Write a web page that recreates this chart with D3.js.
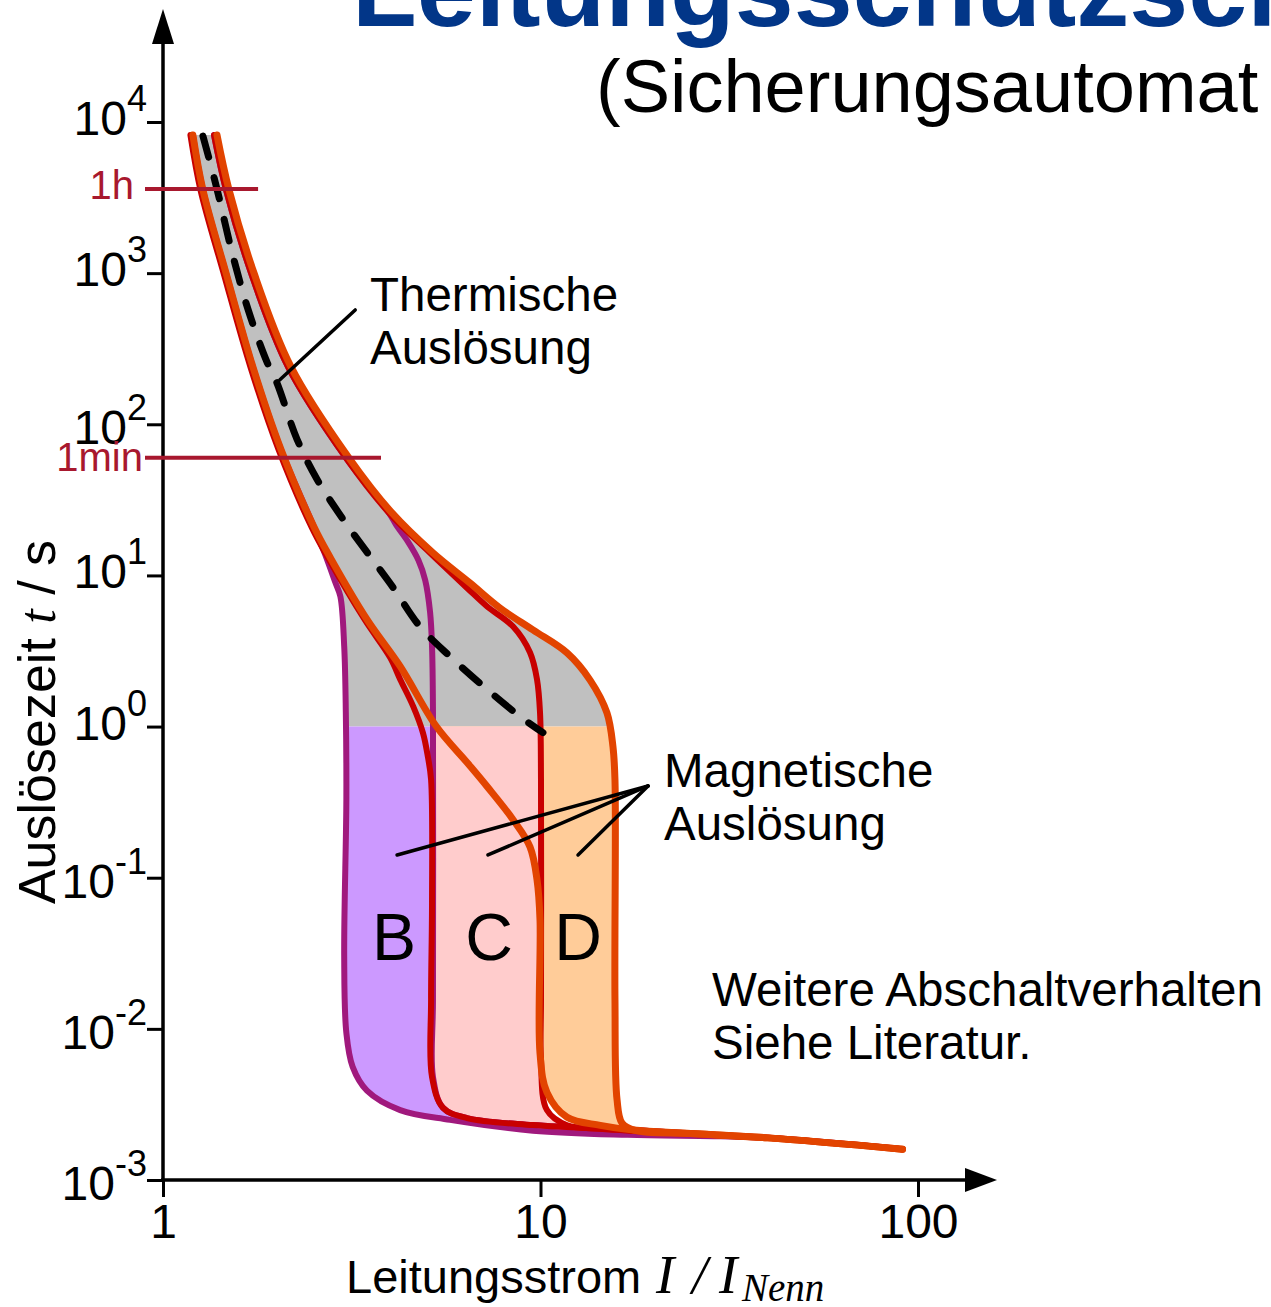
<!DOCTYPE html>
<html>
<head>
<meta charset="utf-8">
<script src="https://cdn.jsdelivr.net/npm/d3@7"></script>
<style>
    body { margin: 0; background: #fff; overflow: hidden; }
    svg { display: block; font-family: "Liberation Sans", Arial, sans-serif; }
</style>
</head>
<body>
<script>
(function() {
    // axis ticks
    var xMajor = [1, 10, 100];
    var xMinor = [2, 3, 4, 5, 6, 7, 8, 9, 20, 30, 40, 50, 60, 70, 80, 90];
    var yExponents = [-3, -2, -1, 0, 1, 2, 3, 4];

    // reference times (s)
    var timeLabels = ["1h", "1min"];
    var timeValues = [3600, 60];

    // trip curves, points are [I / I_Nenn, t in s]
    var thermalLeft = [[1.20, 8206], [1.276, 3550], [1.469, 1000], [1.73, 240], [2.055, 67.8], [2.512, 20.9]];
    var thermalLeftC = [[1.182, 8206], [1.257, 3550], [1.447, 1000], [1.704, 240], [2.024, 67.8], [2.474, 20.9]];
    var thermalRight = [[1.39, 8206], [1.496, 3550], [1.742, 1002], [2.183, 240], [3.11, 59.8], [4.043, 25.9]];
    var thermalRightInner = [[1.365, 8206], [1.469, 3550], [1.711, 1002], [2.144, 240], [3.054, 59.8], [3.97, 25.9]];
    var thermalMid = [[1.276, 8075], [1.39, 3600], [1.523, 1377], [1.679, 578], [1.886, 258], [2.0, 190], [2.265, 79.6], [2.558, 43.3],
        [3.0, 23.5], [3.535, 13.4], [4.068, 8.33], [4.795, 4.59], [5.76, 2.91], [7.22, 1.76], [8.83, 1.165], [10.15, 0.912]];
    var tail = [[40, 0.0019], [91, 0.0016]];

    var bMinLow = [[2.687, 13.8], [2.86, 9.0], [2.95, 7.26], [3.02, 3.4], [3.05, 1.24], [3.06, 0.33], [3.02, 0.03], [3.06, 0.0094],
        [3.18, 0.0056], [3.47, 0.0039], [4.25, 0.0029], [5.76, 0.0025], [9.55, 0.00212], [17, 0.00199], [30, 0.00195]];
    var bMaxLow = [[4.15, 21.5], [4.45, 16.8], [4.75, 12.6], [4.95, 9.3], [5.1, 5.69], [5.16, 3.39], [5.19, 1.24], [5.19, 0.0156],
        [5.19, 0.0048], [5.52, 0.003], [6.39, 0.00257], [9.55, 0.00231], [17.6, 0.00214], [25, 0.00203]];
    var cMinLow = [[2.73, 13.2], [3.42, 5.11], [4.0, 2.85], [4.25, 2.05], [4.6, 1.36], [4.88, 0.912], [5.03, 0.633], [5.13, 0.446],
        [5.16, 0.07], [5.13, 0.0156], [5.16, 0.0048], [5.52, 0.003], [6.39, 0.00257], [9.55, 0.00231], [17.6, 0.00214], [25, 0.00203]];
    var cMaxLow = [[5.097, 14.1], [6.39, 8.26], [7.22, 6.23], [8.46, 4.59], [9.38, 3.09], [9.79, 2.05], [9.97, 1.24], [10.03, 0.446],
        [10.03, 0.0156], [10.03, 0.0063], [10.4, 0.0029], [11.76, 0.0023], [14.4, 0.00218], [17.6, 0.00211], [25, 0.00202]];
    var dMinLow = [[2.77, 13.2], [3.47, 5.11], [4.25, 2.5], [5.3, 1.0], [6.39, 0.578], [7.22, 0.401], [8.46, 0.242], [9.38, 0.16],
        [9.79, 0.097], [9.97, 0.0527], [9.97, 0.0069], [10.4, 0.0038], [11.76, 0.0026], [14.4, 0.0023], [17.6, 0.00214], [25, 0.00203]];
    var dMaxLow = [[5.19, 14.1], [6.506, 8.91], [7.81, 6.09], [9.55, 4.36], [11.76, 3.07], [13.53, 2.03], [15.0, 1.23], [15.56, 0.733],
        [15.75, 0.443], [15.75, 0.0156], [15.95, 0.0034], [16.44, 0.00238], [17.8, 0.00213], [25, 0.00203]];

    var bands = [
        { name: "B", line: "#a0197d", fill: "#cc99ff",
          min: thermalLeft.concat(bMinLow, tail), max: thermalRightInner.concat(bMaxLow, tail) },
        { name: "C", line: "#c80000", fill: "#ffcccc",
          min: thermalLeftC.concat(cMinLow, tail), max: thermalRightInner.concat(cMaxLow, tail) },
        { name: "D", line: "#e24400", fill: "#ffcc99",
          min: thermalLeft.concat(dMinLow, tail), max: thermalRight.concat(dMaxLow, tail) }
    ];

    var width = 1271, height = 1307;
    var svg = d3.select("body").append("svg")
        .attr("width", width)
        .attr("height", height);

    var x = d3.scaleLog().domain([1, 100]).range([163, 918]);
    var y = d3.scaleLog().domain([1e-3, 1e4]).range([1180, 122]);

    var line = d3.line()
        .x(function(d) { return x(d[0]); })
        .y(function(d) { return y(d[1]); })
        .curve(d3.curveCatmullRom.alpha(0.5));

    // clip above / below 1 s
    var defs = svg.append("defs");
    defs.append("clipPath").attr("id", "above")
        .append("rect").attr("x", 0).attr("y", 0).attr("width", width).attr("height", y(1));
    defs.append("clipPath").attr("id", "below")
        .append("rect").attr("x", 0).attr("y", y(1)).attr("width", width).attr("height", height - y(1));

    function outline(a, b) {
        return line(a) + "L" + line(b.slice().reverse()).slice(1) + "Z";
    }

    // fills
    svg.append("path")
        .attr("d", outline(bands[0].min, bands[2].max))
        .attr("fill", "#c0c0c0")
        .attr("clip-path", "url(#above)");

    bands.slice().reverse().forEach(function(b) {
        svg.append("path")
            .attr("d", outline(b.min, b.max))
            .attr("fill", b.fill)
            .attr("clip-path", "url(#below)");
    });

    // curve lines
    bands.forEach(function(b) {
        [b.min, b.max].forEach(function(pts) {
            svg.append("path")
                .attr("d", line(pts))
                .attr("fill", "none")
                .attr("stroke", b.line)
                .attr("stroke-width", b.name === "D" ? 7 : 6)
                .attr("stroke-linecap", "round")
                .attr("stroke-linejoin", "round");
        });
    });

    svg.append("path")
        .attr("d", line(thermalMid))
        .attr("fill", "none")
        .attr("stroke", "#000")
        .attr("stroke-width", 7)
        .attr("stroke-linecap", "round")
        .attr("stroke-dasharray", "22,21");

    // axes
    var axisColor = "#000";
    var xAxis = svg.append("g").attr("transform", "translate(0,1180)");
    xAxis.call(d3.axisBottom(x).tickValues(xMinor).tickSize(9).tickSizeOuter(0).tickFormat(""));
    xAxis.call(d3.axisBottom(x).tickValues(xMajor).tickSize(17).tickSizeOuter(0).tickPadding(7)
        .tickFormat(d3.format("d")));
    xAxis.selectAll(".domain").remove();
    xAxis.selectAll("line").attr("stroke", axisColor).attr("stroke-width", 3);
    xAxis.selectAll("text").attr("font-size", 48).attr("font-family", "Liberation Sans, Arial, sans-serif").attr("fill", "#000");

    var yAxis = svg.append("g").attr("transform", "translate(163,0)");
    yAxis.call(d3.axisLeft(y).tickValues(yExponents.map(function(e) { return Math.pow(10, e); }))
        .tickSize(16).tickSizeOuter(0).tickFormat(""));
    yAxis.selectAll(".domain").remove();
    yAxis.selectAll("line").attr("stroke", axisColor).attr("stroke-width", 3);

    var yLab = svg.append("g").selectAll("text")
        .data(yExponents)
        .enter().append("text")
        .attr("x", 147)
        .attr("y", function(e) { return y(Math.pow(10, e)) + (e < 0 || e === 2 ? 20 : 13); })
        .attr("text-anchor", "end")
        .attr("font-size", 48);
    yLab.append("tspan").text("10");
    yLab.append("tspan").attr("dy", -24).attr("font-size", 36).text(function(e) { return String(e); });

    svg.append("line").attr("x1", 163).attr("y1", 1180).attr("x2", 163).attr("y2", 40)
        .attr("stroke", axisColor).attr("stroke-width", 3.5);
    svg.append("path").attr("d", "M152,44L163,9L174,44Z").attr("fill", axisColor);
    svg.append("line").attr("x1", 161).attr("y1", 1180).attr("x2", 970).attr("y2", 1180)
        .attr("stroke", axisColor).attr("stroke-width", 3.5);
    svg.append("path").attr("d", "M965,1168L997,1180L965,1192Z").attr("fill", axisColor);

    // axis titles
    var serif = "Liberation Serif, Times New Roman, serif";
    var xt = svg.append("text").attr("x", 346).attr("y", 1293).attr("font-size", 47);
    xt.append("tspan").text("Leitungsstrom");
    xt.append("tspan").attr("x", 656).attr("font-family", serif).attr("font-style", "italic")
        .attr("font-size", 55).text("I");
    xt.append("tspan").attr("x", 692).attr("font-family", serif).attr("font-style", "italic")
        .attr("font-size", 55).text("/");
    xt.append("tspan").attr("x", 719).attr("font-family", serif).attr("font-style", "italic")
        .attr("font-size", 55).text("I");
    xt.append("tspan").attr("x", 742).attr("dy", 8).attr("font-family", serif).attr("font-style", "italic")
        .attr("font-size", 39).text("Nenn");

    var yt = svg.append("text").attr("transform", "translate(55,722) rotate(-90)")
        .attr("text-anchor", "middle").attr("font-size", 52);
    yt.append("tspan").text("Auslösezeit ");
    yt.append("tspan").attr("font-family", serif).attr("font-style", "italic").text("t");
    yt.append("tspan").text(" / s");

    // 1h and 1min marks
    var markEnd = [1.786, 3.78];
    timeValues.forEach(function(t, i) {
        svg.append("line")
            .attr("x1", 145).attr("x2", x(markEnd[i]))
            .attr("y1", y(t)).attr("y2", y(t))
            .attr("stroke", "#a8182e").attr("stroke-width", 4);
        svg.append("text")
            .attr("x", i === 0 ? 134 : 143)
            .attr("y", y(t) + (i === 0 ? 10 : 13))
            .attr("text-anchor", "end")
            .attr("font-size", 40)
            .attr("fill", "#a8182e")
            .text(timeLabels[i]);
    });

    // annotations
    function leader(a, b) {
        svg.append("line")
            .attr("x1", x(a[0])).attr("y1", y(a[1]))
            .attr("x2", x(b[0])).attr("y2", y(b[1]))
            .attr("stroke", "#000").attr("stroke-width", 3.5)
            .attr("stroke-linecap", "round");
    }
    leader([3.23, 571], [2.04, 197]);
    [4.17, 7.26, 12.57].forEach(function(i) { leader([19.27, 0.4046], [i, 0.1414]); });

    function label(lines, px, py) {
        lines.forEach(function(s, i) {
            svg.append("text").attr("x", px).attr("y", py + i * 53)
                .attr("font-size", 47.5).text(s);
        });
    }
    label(["Thermische", "Auslösung"], 370, 311);
    label(["Magnetische", "Auslösung"], 664, 787);
    label(["Weitere Abschaltverhalten", "Siehe Literatur."], 712, 1006);

    var letterX = [394, 489, 578];
    bands.forEach(function(b, i) {
        svg.append("text").attr("x", letterX[i]).attr("y", 960)
            .attr("text-anchor", "middle").attr("font-size", 66).text(b.name);
    });

    // title
    svg.append("text").attr("x", 352).attr("y", 26)
        .attr("font-size", 106).attr("font-weight", "bold").attr("fill", "#023688")
        .text("Leitungsschutzschalter");
    svg.append("text").attr("x", 596).attr("y", 112)
        .attr("font-size", 74)
        .text("(Sicherungsautomat");
})();
</script>
</body>
</html>
